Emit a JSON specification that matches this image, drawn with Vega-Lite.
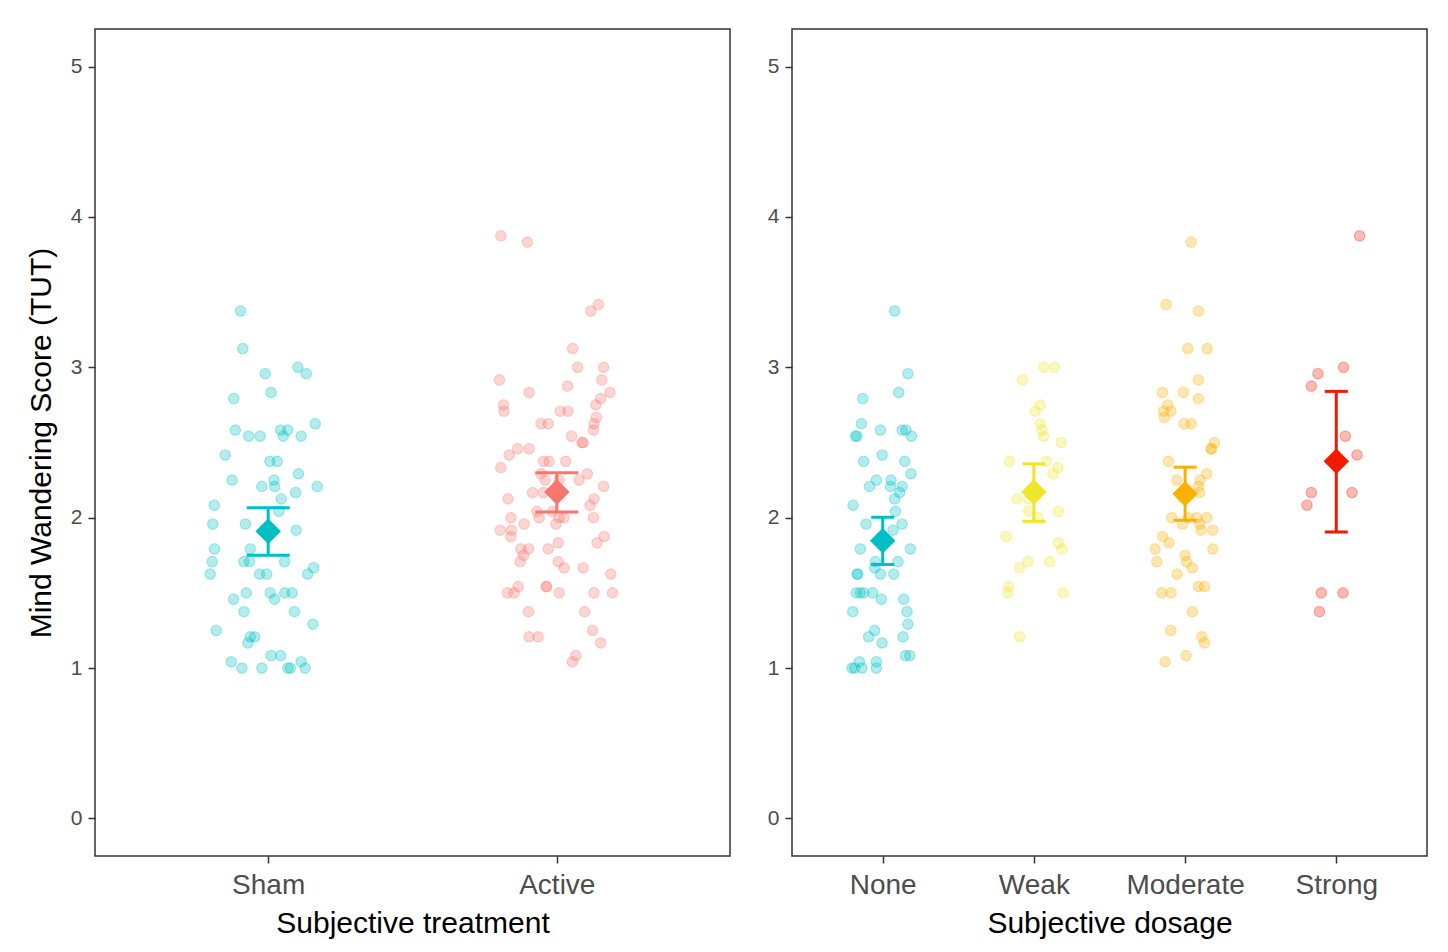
{
"$schema": "https://vega.github.io/schema/vega-lite/v6.json",
"background": "white",
"padding": {"left": 25, "top": 28, "right": 20, "bottom": 10},
"spacing": 35,
"resolve": {"scale": {"color": "independent", "stroke": "independent", "y": "independent", "x": "independent", "xOffset": "independent"}},
"config": {
  "font": "Liberation Sans",
  "view": {"stroke": "#333333", "strokeWidth": 1.5},
  "axis": {"grid": false, "domain": false, "tickColor": "#333333", "tickWidth": 1.5, "tickSize": 7, "labelColor": "#4d4d4d", "titleColor": "#000000", "titleFontWeight": "normal", "labelFont": "Liberation Sans", "titleFont": "Liberation Sans"},
  "axisY": {"labelFontSize": 21, "labelPadding": 6, "titleFontSize": 30, "titlePadding": 14, "format": "d"},
  "axisX": {"labelFontSize": 28, "labelPadding": 8, "titleFontSize": 30, "titlePadding": 9, "labelAngle": 0}
},
"datasets": {
  "treat": [
{"group":"Sham","jitter":-0.096,"score":3.375},{"group":"Sham","jitter":-0.088,"score":3.125},{"group":"Sham","jitter":-0.010,"score":2.958},{"group":"Sham","jitter":0.103,"score":3.0},{"group":"Sham","jitter":0.132,"score":2.958},{"group":"Sham","jitter":0.010,"score":2.833},{"group":"Sham","jitter":-0.119,"score":2.792},{"group":"Sham","jitter":-0.114,"score":2.583},{"group":"Sham","jitter":-0.068,"score":2.542},{"group":"Sham","jitter":-0.028,"score":2.542},{"group":"Sham","jitter":0.043,"score":2.583},{"group":"Sham","jitter":0.068,"score":2.583},{"group":"Sham","jitter":0.052,"score":2.542},{"group":"Sham","jitter":0.114,"score":2.542},{"group":"Sham","jitter":0.163,"score":2.625},{"group":"Sham","jitter":-0.149,"score":2.417},{"group":"Sham","jitter":0.006,"score":2.375},{"group":"Sham","jitter":0.031,"score":2.375},{"group":"Sham","jitter":-0.125,"score":2.25},{"group":"Sham","jitter":0.020,"score":2.25},{"group":"Sham","jitter":-0.022,"score":2.208},{"group":"Sham","jitter":0.023,"score":2.208},{"group":"Sham","jitter":0.105,"score":2.292},{"group":"Sham","jitter":0.170,"score":2.208},{"group":"Sham","jitter":0.095,"score":2.167},{"group":"Sham","jitter":0.045,"score":2.125},{"group":"Sham","jitter":-0.187,"score":2.083},{"group":"Sham","jitter":0.037,"score":2.042},{"group":"Sham","jitter":-0.192,"score":1.958},{"group":"Sham","jitter":-0.079,"score":1.958},{"group":"Sham","jitter":0.097,"score":1.917},{"group":"Sham","jitter":-0.186,"score":1.792},{"group":"Sham","jitter":-0.062,"score":1.792},{"group":"Sham","jitter":-0.194,"score":1.708},{"group":"Sham","jitter":-0.084,"score":1.708},{"group":"Sham","jitter":-0.065,"score":1.708},{"group":"Sham","jitter":0.057,"score":1.708},{"group":"Sham","jitter":-0.201,"score":1.625},{"group":"Sham","jitter":-0.030,"score":1.625},{"group":"Sham","jitter":-0.005,"score":1.625},{"group":"Sham","jitter":0.137,"score":1.625},{"group":"Sham","jitter":0.158,"score":1.667},{"group":"Sham","jitter":-0.120,"score":1.458},{"group":"Sham","jitter":-0.076,"score":1.5},{"group":"Sham","jitter":0.007,"score":1.5},{"group":"Sham","jitter":0.022,"score":1.458},{"group":"Sham","jitter":0.057,"score":1.5},{"group":"Sham","jitter":0.083,"score":1.5},{"group":"Sham","jitter":-0.084,"score":1.375},{"group":"Sham","jitter":0.091,"score":1.375},{"group":"Sham","jitter":-0.180,"score":1.25},{"group":"Sham","jitter":0.155,"score":1.292},{"group":"Sham","jitter":-0.062,"score":1.208},{"group":"Sham","jitter":-0.047,"score":1.208},{"group":"Sham","jitter":-0.070,"score":1.167},{"group":"Sham","jitter":0.010,"score":1.083},{"group":"Sham","jitter":0.043,"score":1.083},{"group":"Sham","jitter":-0.128,"score":1.042},{"group":"Sham","jitter":-0.091,"score":1.0},{"group":"Sham","jitter":-0.022,"score":1.0},{"group":"Sham","jitter":0.068,"score":1.0},{"group":"Sham","jitter":0.077,"score":1.0},{"group":"Sham","jitter":0.114,"score":1.042},{"group":"Sham","jitter":0.128,"score":1.0},
{"group":"Active","jitter":-0.194,"score":3.875},{"group":"Active","jitter":-0.102,"score":3.833},{"group":"Active","jitter":0.144,"score":3.417},{"group":"Active","jitter":0.118,"score":3.375},{"group":"Active","jitter":0.055,"score":3.125},{"group":"Active","jitter":0.072,"score":3.0},{"group":"Active","jitter":0.162,"score":3.0},{"group":"Active","jitter":-0.199,"score":2.917},{"group":"Active","jitter":0.156,"score":2.917},{"group":"Active","jitter":-0.096,"score":2.833},{"group":"Active","jitter":0.037,"score":2.875},{"group":"Active","jitter":0.184,"score":2.833},{"group":"Active","jitter":-0.185,"score":2.75},{"group":"Active","jitter":-0.183,"score":2.708},{"group":"Active","jitter":0.152,"score":2.792},{"group":"Active","jitter":0.135,"score":2.75},{"group":"Active","jitter":0.012,"score":2.708},{"group":"Active","jitter":0.039,"score":2.708},{"group":"Active","jitter":0.137,"score":2.667},{"group":"Active","jitter":0.129,"score":2.625},{"group":"Active","jitter":0.127,"score":2.583},{"group":"Active","jitter":-0.055,"score":2.625},{"group":"Active","jitter":-0.030,"score":2.625},{"group":"Active","jitter":0.051,"score":2.542},{"group":"Active","jitter":0.087,"score":2.5},{"group":"Active","jitter":0.091,"score":2.5},{"group":"Active","jitter":-0.165,"score":2.417},{"group":"Active","jitter":-0.136,"score":2.458},{"group":"Active","jitter":-0.096,"score":2.458},{"group":"Active","jitter":-0.194,"score":2.333},{"group":"Active","jitter":-0.046,"score":2.375},{"group":"Active","jitter":-0.027,"score":2.375},{"group":"Active","jitter":0.031,"score":2.375},{"group":"Active","jitter":-0.055,"score":2.292},{"group":"Active","jitter":-0.040,"score":2.25},{"group":"Active","jitter":0.008,"score":2.25},{"group":"Active","jitter":0.077,"score":2.25},{"group":"Active","jitter":0.106,"score":2.292},{"group":"Active","jitter":0.162,"score":2.208},{"group":"Active","jitter":-0.084,"score":2.167},{"group":"Active","jitter":-0.046,"score":2.167},{"group":"Active","jitter":-0.169,"score":2.125},{"group":"Active","jitter":0.129,"score":2.125},{"group":"Active","jitter":0.115,"score":2.083},{"group":"Active","jitter":-0.069,"score":2.042},{"group":"Active","jitter":-0.015,"score":2.042},{"group":"Active","jitter":-0.061,"score":2.0},{"group":"Active","jitter":-0.159,"score":2.0},{"group":"Active","jitter":0.008,"score":2.0},{"group":"Active","jitter":0.025,"score":2.0},{"group":"Active","jitter":0.127,"score":2.0},{"group":"Active","jitter":-0.113,"score":1.958},{"group":"Active","jitter":-0.003,"score":1.958},{"group":"Active","jitter":-0.196,"score":1.917},{"group":"Active","jitter":-0.157,"score":1.917},{"group":"Active","jitter":-0.159,"score":1.875},{"group":"Active","jitter":0.164,"score":1.875},{"group":"Active","jitter":0.005,"score":1.833},{"group":"Active","jitter":0.139,"score":1.833},{"group":"Active","jitter":-0.125,"score":1.792},{"group":"Active","jitter":-0.098,"score":1.792},{"group":"Active","jitter":-0.030,"score":1.792},{"group":"Active","jitter":-0.115,"score":1.75},{"group":"Active","jitter":-0.127,"score":1.708},{"group":"Active","jitter":0.005,"score":1.708},{"group":"Active","jitter":0.025,"score":1.667},{"group":"Active","jitter":0.091,"score":1.667},{"group":"Active","jitter":0.187,"score":1.625},{"group":"Active","jitter":-0.171,"score":1.5},{"group":"Active","jitter":-0.148,"score":1.5},{"group":"Active","jitter":-0.134,"score":1.542},{"group":"Active","jitter":-0.037,"score":1.542},{"group":"Active","jitter":-0.035,"score":1.542},{"group":"Active","jitter":0.008,"score":1.5},{"group":"Active","jitter":0.129,"score":1.5},{"group":"Active","jitter":0.193,"score":1.5},{"group":"Active","jitter":-0.098,"score":1.375},{"group":"Active","jitter":0.097,"score":1.375},{"group":"Active","jitter":-0.096,"score":1.208},{"group":"Active","jitter":-0.065,"score":1.208},{"group":"Active","jitter":0.124,"score":1.25},{"group":"Active","jitter":0.152,"score":1.167},{"group":"Active","jitter":0.066,"score":1.083},{"group":"Active","jitter":0.054,"score":1.042}
  ],
  "dose": [
{"group":"None","jitter":0.079,"score":3.375},{"group":"None","jitter":0.167,"score":2.958},{"group":"None","jitter":0.106,"score":2.833},{"group":"None","jitter":-0.132,"score":2.792},{"group":"None","jitter":-0.141,"score":2.625},{"group":"None","jitter":-0.181,"score":2.542},{"group":"None","jitter":-0.170,"score":2.542},{"group":"None","jitter":-0.015,"score":2.583},{"group":"None","jitter":0.128,"score":2.583},{"group":"None","jitter":0.154,"score":2.583},{"group":"None","jitter":0.190,"score":2.542},{"group":"None","jitter":-0.126,"score":2.375},{"group":"None","jitter":-0.004,"score":2.417},{"group":"None","jitter":0.146,"score":2.375},{"group":"None","jitter":0.187,"score":2.292},{"group":"None","jitter":-0.088,"score":2.208},{"group":"None","jitter":-0.042,"score":2.25},{"group":"None","jitter":0.055,"score":2.25},{"group":"None","jitter":0.051,"score":2.208},{"group":"None","jitter":0.128,"score":2.208},{"group":"None","jitter":0.112,"score":2.167},{"group":"None","jitter":0.079,"score":2.125},{"group":"None","jitter":-0.196,"score":2.083},{"group":"None","jitter":0.084,"score":2.042},{"group":"None","jitter":-0.110,"score":1.958},{"group":"None","jitter":0.068,"score":1.917},{"group":"None","jitter":0.128,"score":1.958},{"group":"None","jitter":-0.148,"score":1.792},{"group":"None","jitter":0.183,"score":1.792},{"group":"None","jitter":-0.049,"score":1.708},{"group":"None","jitter":-0.053,"score":1.667},{"group":"None","jitter":0.101,"score":1.708},{"group":"None","jitter":-0.170,"score":1.625},{"group":"None","jitter":-0.165,"score":1.625},{"group":"None","jitter":-0.015,"score":1.625},{"group":"None","jitter":0.073,"score":1.625},{"group":"None","jitter":-0.176,"score":1.5},{"group":"None","jitter":-0.148,"score":1.5},{"group":"None","jitter":-0.126,"score":1.5},{"group":"None","jitter":-0.066,"score":1.5},{"group":"None","jitter":-0.009,"score":1.458},{"group":"None","jitter":0.139,"score":1.458},{"group":"None","jitter":-0.198,"score":1.375},{"group":"None","jitter":0.161,"score":1.375},{"group":"None","jitter":0.167,"score":1.292},{"group":"None","jitter":-0.053,"score":1.25},{"group":"None","jitter":-0.093,"score":1.208},{"group":"None","jitter":-0.004,"score":1.167},{"group":"None","jitter":0.134,"score":1.208},{"group":"None","jitter":0.150,"score":1.083},{"group":"None","jitter":0.179,"score":1.083},{"group":"None","jitter":-0.154,"score":1.042},{"group":"None","jitter":-0.042,"score":1.042},{"group":"None","jitter":-0.203,"score":1.0},{"group":"None","jitter":-0.185,"score":1.0},{"group":"None","jitter":-0.137,"score":1.0},{"group":"None","jitter":-0.042,"score":1.0},
{"group":"Weak","jitter":0.064,"score":3.0},{"group":"Weak","jitter":0.137,"score":3.0},{"group":"Weak","jitter":-0.075,"score":2.917},{"group":"Weak","jitter":0.042,"score":2.75},{"group":"Weak","jitter":0.009,"score":2.708},{"group":"Weak","jitter":0.042,"score":2.625},{"group":"Weak","jitter":0.053,"score":2.583},{"group":"Weak","jitter":0.064,"score":2.542},{"group":"Weak","jitter":0.181,"score":2.5},{"group":"Weak","jitter":-0.161,"score":2.375},{"group":"Weak","jitter":0.082,"score":2.375},{"group":"Weak","jitter":0.159,"score":2.333},{"group":"Weak","jitter":0.126,"score":2.292},{"group":"Weak","jitter":-0.112,"score":2.125},{"group":"Weak","jitter":-0.035,"score":2.125},{"group":"Weak","jitter":-0.035,"score":2.042},{"group":"Weak","jitter":0.026,"score":2.0},{"group":"Weak","jitter":0.163,"score":2.042},{"group":"Weak","jitter":-0.183,"score":1.875},{"group":"Weak","jitter":0.163,"score":1.833},{"group":"Weak","jitter":0.185,"score":1.792},{"group":"Weak","jitter":-0.040,"score":1.708},{"group":"Weak","jitter":-0.095,"score":1.667},{"group":"Weak","jitter":0.104,"score":1.708},{"group":"Weak","jitter":-0.168,"score":1.542},{"group":"Weak","jitter":-0.172,"score":1.5},{"group":"Weak","jitter":0.192,"score":1.5},{"group":"Weak","jitter":-0.095,"score":1.208},
{"group":"Moderate","jitter":0.040,"score":3.833},{"group":"Moderate","jitter":-0.126,"score":3.417},{"group":"Moderate","jitter":0.088,"score":3.375},{"group":"Moderate","jitter":0.018,"score":3.125},{"group":"Moderate","jitter":0.146,"score":3.125},{"group":"Moderate","jitter":0.088,"score":2.917},{"group":"Moderate","jitter":-0.150,"score":2.833},{"group":"Moderate","jitter":-0.011,"score":2.833},{"group":"Moderate","jitter":0.088,"score":2.792},{"group":"Moderate","jitter":-0.115,"score":2.75},{"group":"Moderate","jitter":-0.143,"score":2.708},{"group":"Moderate","jitter":-0.093,"score":2.708},{"group":"Moderate","jitter":-0.137,"score":2.667},{"group":"Moderate","jitter":-0.007,"score":2.625},{"group":"Moderate","jitter":0.040,"score":2.625},{"group":"Moderate","jitter":0.194,"score":2.5},{"group":"Moderate","jitter":0.176,"score":2.458},{"group":"Moderate","jitter":0.170,"score":2.458},{"group":"Moderate","jitter":-0.110,"score":2.375},{"group":"Moderate","jitter":-0.055,"score":2.25},{"group":"Moderate","jitter":0.143,"score":2.292},{"group":"Moderate","jitter":0.099,"score":2.25},{"group":"Moderate","jitter":0.088,"score":2.208},{"group":"Moderate","jitter":0.095,"score":2.167},{"group":"Moderate","jitter":-0.088,"score":2.0},{"group":"Moderate","jitter":0.022,"score":2.0},{"group":"Moderate","jitter":0.077,"score":2.0},{"group":"Moderate","jitter":0.143,"score":2.0},{"group":"Moderate","jitter":-0.018,"score":1.958},{"group":"Moderate","jitter":0.095,"score":1.958},{"group":"Moderate","jitter":0.106,"score":1.917},{"group":"Moderate","jitter":0.183,"score":1.917},{"group":"Moderate","jitter":-0.148,"score":1.875},{"group":"Moderate","jitter":-0.106,"score":1.833},{"group":"Moderate","jitter":-0.198,"score":1.792},{"group":"Moderate","jitter":0.183,"score":1.792},{"group":"Moderate","jitter":-0.187,"score":1.708},{"group":"Moderate","jitter":0.0,"score":1.75},{"group":"Moderate","jitter":0.011,"score":1.708},{"group":"Moderate","jitter":0.048,"score":1.667},{"group":"Moderate","jitter":-0.053,"score":1.625},{"group":"Moderate","jitter":-0.154,"score":1.5},{"group":"Moderate","jitter":-0.093,"score":1.5},{"group":"Moderate","jitter":0.088,"score":1.542},{"group":"Moderate","jitter":0.128,"score":1.542},{"group":"Moderate","jitter":0.048,"score":1.375},{"group":"Moderate","jitter":-0.095,"score":1.25},{"group":"Moderate","jitter":0.110,"score":1.208},{"group":"Moderate","jitter":0.128,"score":1.167},{"group":"Moderate","jitter":0.007,"score":1.083},{"group":"Moderate","jitter":-0.132,"score":1.042},
{"group":"Strong","jitter":0.154,"score":3.875},{"group":"Strong","jitter":0.048,"score":3.0},{"group":"Strong","jitter":-0.121,"score":2.958},{"group":"Strong","jitter":-0.165,"score":2.875},{"group":"Strong","jitter":0.060,"score":2.542},{"group":"Strong","jitter":0.137,"score":2.417},{"group":"Strong","jitter":-0.165,"score":2.167},{"group":"Strong","jitter":0.104,"score":2.167},{"group":"Strong","jitter":-0.194,"score":2.083},{"group":"Strong","jitter":-0.099,"score":1.5},{"group":"Strong","jitter":0.044,"score":1.5},{"group":"Strong","jitter":-0.112,"score":1.375}
  ],
  "treatSummary": [
    {"group":"Sham","mean":1.91,"lo":1.75,"hi":2.066},
    {"group":"Active","mean":2.17,"lo":2.037,"hi":2.298}
  ],
  "doseSummary": [
    {"group":"None","mean":1.846,"lo":1.689,"hi":2.003},
    {"group":"Weak","mean":2.17,"lo":1.976,"hi":2.358},
    {"group":"Moderate","mean":2.159,"lo":1.983,"hi":2.336},
    {"group":"Strong","mean":2.376,"lo":1.905,"hi":2.84}
  ]
},
"hconcat": [
  {
    "width": 635, "height": 827,
    "encoding": {
      "x": {"field": "group", "type": "nominal", "title": "Subjective treatment", "scale": {"type": "point", "domain": ["Sham", "Active"], "padding": 0.6}},
      "color": {"field": "group", "type": "nominal", "scale": {"domain": ["Sham", "Active"], "range": ["#00BFC4", "#F8766D"]}, "legend": null}
    },
    "layer": [
      {
        "data": {"name": "treat"},
        "mark": {"type": "point", "shape": "circle", "filled": true, "size": 110, "fillOpacity": 0.3, "strokeOpacity": 0.3, "strokeWidth": 1.2},
        "encoding": {
          "xOffset": {"field": "jitter", "type": "quantitative", "scale": {"domain": [-0.5, 0.5], "range": [-144.3, 144.3]}},
          "y": {"field": "score", "type": "quantitative", "title": "Mind Wandering Score (TUT)", "scale": {"domain": [-0.25, 5.25], "nice": false, "zero": false}, "axis": {"values": [0, 1, 2, 3, 4, 5]}},
          "stroke": {"field": "group", "type": "nominal", "scale": {"domain": ["Sham", "Active"], "range": ["#00BFC4", "#F8766D"]}, "legend": null}
        }
      },
      {
        "data": {"name": "treatSummary"},
        "mark": {"type": "rule", "strokeWidth": 3, "opacity": 1},
        "encoding": {
          "y": {"field": "lo", "type": "quantitative", "title": "Mind Wandering Score (TUT)"},
          "y2": {"field": "hi"}
        }
      },
      {
        "data": {"name": "treatSummary"},
        "mark": {"type": "tick", "size": 43, "thickness": 3, "opacity": 1},
        "encoding": {"y": {"field": "lo", "type": "quantitative", "title": "Mind Wandering Score (TUT)"}}
      },
      {
        "data": {"name": "treatSummary"},
        "mark": {"type": "tick", "size": 43, "thickness": 3, "opacity": 1},
        "encoding": {"y": {"field": "hi", "type": "quantitative", "title": "Mind Wandering Score (TUT)"}}
      },
      {
        "data": {"name": "treatSummary"},
        "mark": {"type": "point", "shape": "diamond", "filled": true, "size": 650, "opacity": 1},
        "encoding": {"y": {"field": "mean", "type": "quantitative", "title": "Mind Wandering Score (TUT)"}}
      }
    ]
  },
  {
    "width": 635, "height": 827,
    "encoding": {
      "x": {"field": "group", "type": "nominal", "title": "Subjective dosage", "scale": {"type": "point", "domain": ["None", "Weak", "Moderate", "Strong"], "padding": 0.6}},
      "color": {"field": "group", "type": "nominal", "scale": {"domain": ["None", "Weak", "Moderate", "Strong"], "range": ["#00BFC4", "#EFE52A", "#FBB100", "#F21A00"]}, "legend": null}
    },
    "layer": [
      {
        "data": {"name": "dose"},
        "mark": {"type": "point", "shape": "circle", "filled": true, "size": 110, "fillOpacity": 0.3, "strokeOpacity": 0.3, "strokeWidth": 1.2},
        "encoding": {
          "xOffset": {"field": "jitter", "type": "quantitative", "scale": {"domain": [-0.5, 0.5], "range": [-75.6, 75.6]}},
          "y": {"field": "score", "type": "quantitative", "title": null, "scale": {"domain": [-0.25, 5.25], "nice": false, "zero": false}, "axis": {"values": [0, 1, 2, 3, 4, 5]}},
          "stroke": {"field": "group", "type": "nominal", "scale": {"domain": ["None", "Weak", "Moderate", "Strong"], "range": ["#00BFC4", "#EFE52A", "#FBB100", "#F21A00"]}, "legend": null}
        }
      },
      {
        "data": {"name": "doseSummary"},
        "mark": {"type": "rule", "strokeWidth": 3, "opacity": 1},
        "encoding": {
          "y": {"field": "lo", "type": "quantitative", "title": null},
          "y2": {"field": "hi"}
        }
      },
      {
        "data": {"name": "doseSummary"},
        "mark": {"type": "tick", "size": 23, "thickness": 3, "opacity": 1},
        "encoding": {"y": {"field": "lo", "type": "quantitative", "title": null}}
      },
      {
        "data": {"name": "doseSummary"},
        "mark": {"type": "tick", "size": 23, "thickness": 3, "opacity": 1},
        "encoding": {"y": {"field": "hi", "type": "quantitative", "title": null}}
      },
      {
        "data": {"name": "doseSummary"},
        "mark": {"type": "point", "shape": "diamond", "filled": true, "size": 650, "opacity": 1},
        "encoding": {"y": {"field": "mean", "type": "quantitative", "title": null}}
      }
    ]
  }
]
}
